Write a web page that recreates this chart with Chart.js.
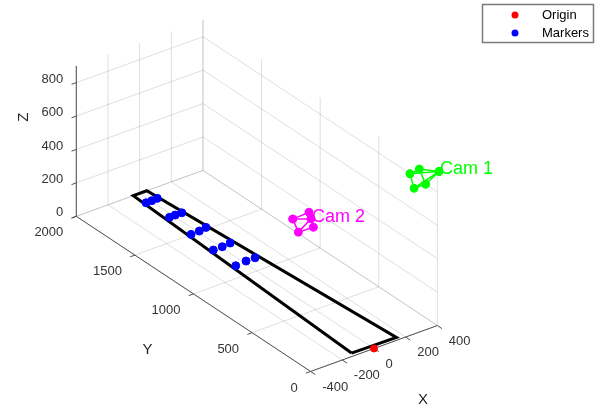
<!DOCTYPE html>
<html>
<head>
<meta charset="utf-8">
<script src="https://cdn.jsdelivr.net/npm/chart.js@4"></script>
<style>
  html, body { margin: 0; padding: 0; background: #fff; }
  #wrap { width: 595px; height: 407px; position: relative; }
</style>
</head>
<body>
<div id="wrap"><canvas id="chart"></canvas></div>
<script>
// Axis limits and ticks (data units, mm)
const xLim = [-400, 400];
const yLim = [0, 2000];
const zLim = [0, 900];
const xTicks = [-400, -200, 0, 200, 400];
const yTicks = [0, 500, 1000, 1500, 2000];
const zTicks = [0, 200, 400, 600, 800];

// Track outline on the floor (closed)
const trackX = [-120, 160, 45, -40, -120];
const trackY = [30, 25, 2000, 2000, 30];

// Markers on the floor
const markerX = [-32, 4, 41, -26, 11, 52, -43, 11, 61, -49, 8, 63, -54, 17, 74];
const markerY = [1902, 1902, 1905, 1710, 1712, 1711, 1503, 1506, 1516, 1305, 1306, 1313, 1107, 1115, 1115];
const markerZ = [0, 0, 0, 0, 0, 0, 0, 0, 0, 0, 0, 0, 0, 0, 0];

// Cameras: centre first, then the four frame corners in order
const cam1X = [410, 227, 286, 326, 253];
const cam1Y = [0, 0, 0, 0, 0];
const cam1Z = [918, 967, 975, 871, 872];
const cam2X = [-383, -498, -396, -368, -463];
const cam2Y = [20, 20, 20, 20, 20];
const cam2Z = [898, 936, 942, 843, 846];

const FONT = '"Liberation Sans", Arial, Helvetica, sans-serif';

// orthographic view, like MATLAB view(az, el)
const deg = Math.PI / 180;
const view = { az: -36.5 * deg, el: 30 * deg, sh: 0.197, sv: 0.193 };

function project(p) {
    const ca = Math.cos(view.az), sa = Math.sin(view.az);
    const ce = Math.cos(view.el), se = Math.sin(view.el);
    return {
        x: view.sh * (p[0] * ca + p[1] * sa),
        y: view.sv * (-p[0] * sa * se + p[1] * ca * se + p[2] * ce)
    };
}

function zip3(xs, ys, zs) {
    return xs.map((x, i) => [x, ys[i], zs[i]]);
}

// list of 3D polylines -> one dataset, broken with null points
function segmentData(segs) {
    const out = [];
    segs.forEach(s => {
        s.forEach(p => out.push(project(p)));
        out.push({ x: null, y: null });
    });
    return out;
}

function gridSegments() {
    const [x0, x1] = xLim, [y0, y1] = yLim, [z0, z1] = zLim;
    const segs = [];
    xTicks.forEach(x => {
        segs.push([[x, y0, z0], [x, y1, z0]]);
        segs.push([[x, y1, z0], [x, y1, z1]]);
    });
    yTicks.forEach(y => {
        segs.push([[x0, y, z0], [x1, y, z0]]);
        segs.push([[x1, y, z0], [x1, y, z1]]);
    });
    zTicks.forEach(z => {
        segs.push([[x0, y1, z], [x1, y1, z]]);
        segs.push([[x1, y0, z], [x1, y1, z]]);
    });
    return segs;
}

function axisSegments() {
    const [x0, x1] = xLim, [y0, y1] = yLim, [z0, z1] = zLim;
    const segs = [
        [[x0, y1, z0], [x0, y1, z1]],
        [[x0, y0, z0], [x0, y1, z0]],
        [[x0, y0, z0], [x1, y0, z0]]
    ];
    zTicks.forEach(z => segs.push([[x0, y1, z], [x0 - 30, y1, z]]));
    yTicks.forEach(y => segs.push([[x0, y, z0], [x0 - 30, y, z0]]));
    xTicks.forEach(x => segs.push([[x, y0, z0], [x, y0 - 40, z0]]));
    return segs;
}

function cameraSegments(pts) {
    const c = pts[0], k = pts.slice(1);
    const segs = k.map(p => [c, p]);
    segs.push([k[0], k[1], k[2], k[3], k[0]]);
    return segs;
}

const trackPts = trackX.map((x, i) => [x, trackY[i], 0]);
const cam1Pts = zip3(cam1X, cam1Y, cam1Z);
const cam2Pts = zip3(cam2X, cam2Y, cam2Z);

const labelPlugin = {
    id: 'labels3d',
    afterDatasetsDraw(chart) {
        const { ctx, scales } = chart;
        const px = p => {
            const q = project(p);
            return [scales.x.getPixelForValue(q.x), scales.y.getPixelForValue(q.y)];
        };
        ctx.save();
        ctx.fillStyle = '#333';
        ctx.font = '13px ' + FONT;
        ctx.textBaseline = 'middle';

        ctx.textAlign = 'right';
        zTicks.forEach(v => {
            const [x, y] = px([xLim[0], yLim[1], v]);
            ctx.fillText(String(v), x - 13, y - 3.5);
        });
        yTicks.forEach(v => {
            const [x, y] = px([xLim[0], v, zLim[0]]);
            ctx.fillText(String(v), x - 13, y + 16.5);
        });
        ctx.textAlign = 'left';
        xTicks.forEach(v => {
            const [x, y] = px([v, yLim[0], zLim[0]]);
            ctx.fillText(String(v), x + 11.5, y + 15.5);
        });

        // axis titles
        ctx.fillStyle = '#262626';
        ctx.font = '15px ' + FONT;
        ctx.textAlign = 'center';
        let [ax, ay] = px([(xLim[0] + xLim[1]) / 2, yLim[0], zLim[0]]);
        ctx.fillText('X', ax + 49, ay + 51.5);
        [ax, ay] = px([xLim[0], (yLim[0] + yLim[1]) / 2, zLim[0]]);
        ctx.fillText('Y', ax - 46, ay + 56);
        [ax, ay] = px([xLim[0], yLim[1], (zLim[0] + zLim[1]) / 2]);
        ctx.save();
        ctx.translate(ax - 52, ay - 24);
        ctx.rotate(-Math.PI / 2);
        ctx.fillText('Z', 0, 0);
        ctx.restore();

        // camera names at the camera centres
        ctx.font = '18px ' + FONT;
        ctx.textAlign = 'left';
        [[cam1Pts[0], 'Cam 1', '#00ff00'], [cam2Pts[0], 'Cam 2', '#ff00ff']].forEach(([p, txt, col]) => {
            const [x, y] = px(p);
            ctx.fillStyle = col;
            ctx.fillText(txt, x + 1, y - 2);
        });

        // legend
        const entries = chart.data.datasets
            .filter(d => d.legendRank !== undefined)
            .sort((a, b) => a.legendRank - b.legendRank);
        ctx.fillStyle = '#fff';
        ctx.fillRect(482, 4, 111, 38);
        ctx.strokeStyle = '#7a7a7a';
        ctx.lineWidth = 1.5;
        ctx.strokeRect(482.5, 4.5, 111, 38);
        ctx.font = '13px ' + FONT;
        ctx.textAlign = 'left';
        entries.forEach((d, i) => {
            const y = 15 + i * 18;
            ctx.beginPath();
            ctx.arc(515, y, 3.5, 0, Math.PI * 2);
            ctx.fillStyle = d.backgroundColor;
            ctx.fill();
            ctx.fillStyle = '#000';
            ctx.fillText(d.label, 542, y);
        });
        ctx.restore();
    }
};

new Chart(document.getElementById('chart'), {
    type: 'scatter',
    data: {
        datasets: [
            {
                label: 'grid',
                data: segmentData(gridSegments()),
                showLine: true,
                borderColor: 'rgba(38, 38, 38, 0.15)',
                borderWidth: 1,
                pointRadius: 0,
                order: 10
            },
            {
                label: 'axes',
                data: segmentData(axisSegments()),
                showLine: true,
                borderColor: '#505050',
                borderWidth: 1,
                pointRadius: 0,
                order: 9
            },
            {
                label: 'track',
                data: segmentData([trackPts]),
                showLine: true,
                borderColor: '#000',
                borderWidth: 3,
                pointRadius: 0,
                order: 6
            },
            {
                label: 'Markers',
                legendRank: 2,
                data: zip3(markerX, markerY, markerZ).map(project),
                backgroundColor: '#0000ff',
                borderColor: '#0000ff',
                pointRadius: 4,
                order: 5
            },
            {
                label: 'Origin',
                legendRank: 1,
                data: [project([0, 0, 0])],
                backgroundColor: '#ff0000',
                borderColor: '#ff0000',
                pointRadius: 3.5,
                order: 4
            },
            {
                label: 'Cam 2',
                data: segmentData(cameraSegments(cam2Pts)),
                showLine: true,
                borderColor: '#ff00ff',
                backgroundColor: '#ff00ff',
                borderWidth: 1.5,
                pointRadius: 3.5,
                order: 3
            },
            {
                label: 'Cam 1',
                data: segmentData(cameraSegments(cam1Pts)),
                showLine: true,
                borderColor: '#00ff00',
                backgroundColor: '#00ff00',
                borderWidth: 1.5,
                pointRadius: 3.5,
                order: 2
            }
        ]
    },
    options: {
        responsive: true,
        maintainAspectRatio: false,
        animation: false,
        events: [],
        layout: { padding: 0, autoPadding: false },
        plugins: {
            legend: { display: false },
            tooltip: { enabled: false }
        },
        scales: {
            x: { type: 'linear', min: -374, max: 221, display: false },
            y: { type: 'linear', min: -58.5, max: 348.5, display: false }
        }
    },
    plugins: [labelPlugin]
});
</script>
</body>
</html>
